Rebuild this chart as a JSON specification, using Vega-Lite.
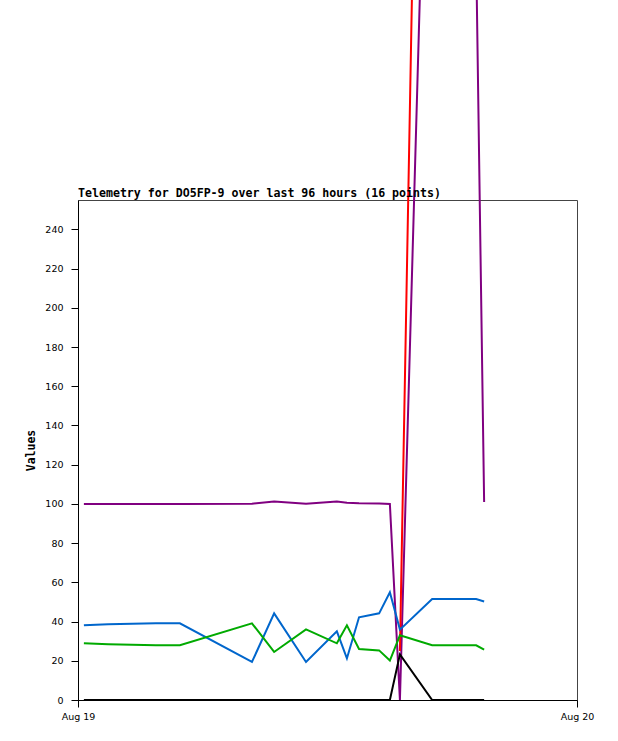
{
  "$schema": "https://vega.github.io/schema/vega-lite/v6.json",
  "description": "Telemetry for DO5FP-9",
  "width": 499,
  "height": 500,
  "autosize": {"type": "none"},
  "padding": {"left": 78, "top": 200, "right": 41, "bottom": 41},
  "background": "white",
  "config": {
    "view": {"stroke": "#444444", "strokeWidth": 1}
  },
  "title": {
    "text": "Telemetry for DO5FP-9 over last 96 hours (16 points)",
    "anchor": "start",
    "frame": "group",
    "font": "DejaVu Sans Mono",
    "fontSize": 11.6,
    "fontWeight": "bold",
    "color": "black",
    "offset": 3,
    "dy": 1467
  },
  "data": {
    "values": [
      {"time": "2024-08-19T00:17", "purple": 100, "red": null, "blue": 38.1, "green": 28.9, "black": 0},
      {"time": "2024-08-19T01:27", "purple": 100, "red": null, "blue": 38.6, "green": 28.4, "black": 0},
      {"time": "2024-08-19T03:45", "purple": 100, "red": null, "blue": 39.1, "green": 27.9, "black": 0},
      {"time": "2024-08-19T04:54", "purple": 100, "red": null, "blue": 39.1, "green": 27.9, "black": 0},
      {"time": "2024-08-19T08:22", "purple": 100.1, "red": null, "blue": 19.4, "green": 39.1, "black": 0},
      {"time": "2024-08-19T09:26", "purple": 101.2, "red": null, "blue": 44.2, "green": 24.5, "black": 0},
      {"time": "2024-08-19T10:58", "purple": 100.1, "red": null, "blue": 19.4, "green": 36.0, "black": 0},
      {"time": "2024-08-19T12:27", "purple": 101.2, "red": null, "blue": 35.0, "green": 28.9, "black": 0},
      {"time": "2024-08-19T12:56", "purple": 100.6, "red": null, "blue": 21.2, "green": 38.1, "black": 0},
      {"time": "2024-08-19T13:31", "purple": 100.3, "red": null, "blue": 42.2, "green": 26.0, "black": 0},
      {"time": "2024-08-19T14:29", "purple": 100.2, "red": null, "blue": 44.2, "green": 25.3, "black": 0},
      {"time": "2024-08-19T15:00", "purple": 100, "red": null, "blue": 54.9, "green": 20.1, "black": 0},
      {"time": "2024-08-19T15:29", "purple": 0, "red": 25, "blue": 35.9, "green": 33.0, "black": 23.3},
      {"time": "2024-08-19T17:02", "purple": 580, "red": 920, "blue": 51.5, "green": 27.9, "black": 0},
      {"time": "2024-08-19T19:09", "purple": 380, "red": 1000, "blue": 51.5, "green": 27.9, "black": 0},
      {"time": "2024-08-19T19:32", "purple": 101, "red": 1000, "blue": 50.2, "green": 25.7, "black": 0}
    ]
  },
  "transform": [
    {"fold": ["purple", "red", "blue", "green", "black"], "as": ["series", "value"]}
  ],
  "mark": {"type": "line", "clip": false, "strokeWidth": 2},
  "encoding": {
    "x": {
      "field": "time",
      "type": "temporal",
      "title": null,
      "scale": {
        "domain": [
          {"year": 2024, "month": 8, "date": 19},
          {"year": 2024, "month": 8, "date": 20}
        ]
      },
      "axis": {
        "values": [
          {"year": 2024, "month": 8, "date": 19},
          {"year": 2024, "month": 8, "date": 20}
        ],
        "format": "%b %d",
        "grid": false,
        "tickSize": 7,
        "tickColor": "black",
        "domainColor": "black",
        "labelFont": "DejaVu Sans",
        "labelFontSize": 9.5,
        "labelColor": "black",
        "labelPadding": 4,
        "labelFlush": false
      }
    },
    "y": {
      "field": "value",
      "type": "quantitative",
      "title": "Values",
      "scale": {"domain": [0, 255], "nice": false},
      "axis": {
        "values": [0, 20, 40, 60, 80, 100, 120, 140, 160, 180, 200, 220, 240],
        "grid": false,
        "tickSize": 7,
        "tickColor": "black",
        "domainColor": "black",
        "labelFont": "DejaVu Sans",
        "labelFontSize": 9.5,
        "labelColor": "black",
        "labelPadding": 8,
        "titleFont": "DejaVu Sans Mono",
        "titleFontSize": 11.5,
        "titleFontWeight": "bold",
        "titleColor": "black",
        "titlePadding": 8
      }
    },
    "color": {
      "field": "series",
      "type": "nominal",
      "scale": {
        "domain": ["purple", "red", "blue", "green", "black"],
        "range": ["#800080", "#ff0000", "#0066cc", "#00aa00", "#000000"]
      },
      "legend": null
    }
  }
}
